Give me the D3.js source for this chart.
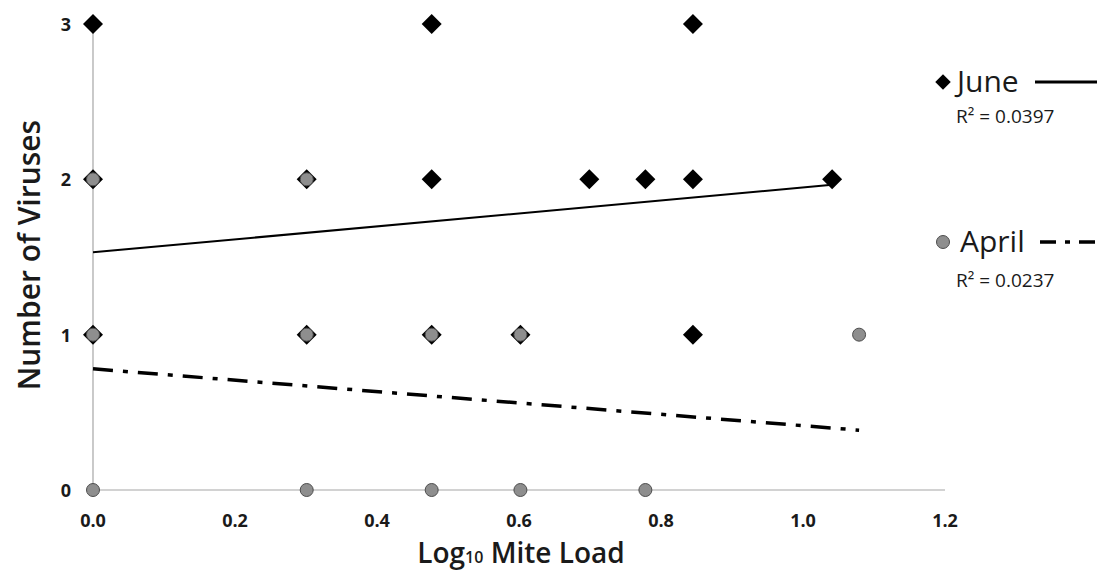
<!DOCTYPE html>
<html>
<head>
<meta charset="utf-8">
<script src="https://cdn.jsdelivr.net/npm/d3@7"></script>
<style>
body { margin: 0; background: #fff; }
text { font-family: "Open Sans", "Noto Sans", sans-serif; }
</style>
</head>
<body>
<div id="chart"></div>
<script>
// june points (log10 mite load, number of viruses)
var juneX = [0, 0.477, 0.845, 0, 0.301, 0.477, 0.699, 0.778, 0.845, 1.041, 0, 0.301, 0.477, 0.602, 0.845];
var juneY = [3, 3, 3, 2, 2, 2, 2, 2, 2, 2, 1, 1, 1, 1, 1];
// april points
var aprilX = [0, 0.301, 0, 0.301, 0.477, 0.602, 1.079, 0, 0.301, 0.477, 0.602, 0.778];
var aprilY = [2, 2, 1, 1, 1, 1, 1, 0, 0, 0, 0, 0];
// trend lines [x0, y0, x1, y1]
var juneTrend = [0, 1.53, 1.041, 1.965];
var aprilTrend = [0, 0.78, 1.079, 0.385];
var xTicks = [0, 0.2, 0.4, 0.6, 0.8, 1.0, 1.2];
var yTicks = [0, 1, 2, 3];

var W = 1106, H = 571;
var svg = d3.select("#chart").append("svg").attr("width", W).attr("height", H);

var x = d3.scaleLinear().domain([0, 1.2]).range([93, 945]);
var y = d3.scaleLinear().domain([0, 3]).range([490, 24]);

// axes lines
svg.append("line").attr("x1", x(0)).attr("x2", x(0)).attr("y1", y(0)).attr("y2", y(3))
  .attr("stroke", "#a6a6a6").attr("stroke-width", 1.2);
svg.append("line").attr("x1", x(0)).attr("x2", x(1.2)).attr("y1", y(0)).attr("y2", y(0))
  .attr("stroke", "#a6a6a6").attr("stroke-width", 1.2);

svg.selectAll(".xt").data(xTicks).enter().append("text")
  .attr("x", function(d){ return x(d); }).attr("y", 527)
  .attr("text-anchor", "middle").attr("font-size", 18).attr("font-weight", "bold")
  .attr("fill", "#1a1a1a")
  .text(function(d){ return d.toFixed(1); });

svg.selectAll(".yt").data(yTicks).enter().append("text")
  .attr("x", 71).attr("y", function(d){ return y(d) + 7; })
  .attr("text-anchor", "end").attr("font-size", 18).attr("font-weight", "bold")
  .attr("fill", "#1a1a1a")
  .text(function(d){ return d; });

// titles
var xt = svg.append("text").attr("x", 521).attr("y", 563).attr("text-anchor", "middle")
  .attr("font-size", 28).attr("font-weight", 600).attr("fill", "#1a1a1a");
xt.append("tspan").text("Log");
xt.append("tspan").attr("font-size", 16).text("10");
xt.append("tspan").text(" Mite Load");

svg.append("text").attr("transform", "translate(40,255) rotate(-90)")
  .attr("text-anchor", "middle").attr("font-size", 30).attr("font-weight", 600)
  .attr("fill", "#1a1a1a").text("Number of Viruses");

// trend lines
svg.append("line")
  .attr("x1", x(juneTrend[0])).attr("y1", y(juneTrend[1]))
  .attr("x2", x(juneTrend[2])).attr("y2", y(juneTrend[3]))
  .attr("stroke", "#000").attr("stroke-width", 2);
svg.append("line")
  .attr("x1", x(aprilTrend[0])).attr("y1", y(aprilTrend[1]))
  .attr("x2", x(aprilTrend[2])).attr("y2", y(aprilTrend[3]))
  .attr("stroke", "#000").attr("stroke-width", 3.5).attr("stroke-dasharray", "20,10,5,10");

var diamond = d3.symbol().type(d3.symbolSquare).size(200);
var june = juneX.map(function(d, i){ return [d, juneY[i]]; });
var april = aprilX.map(function(d, i){ return [d, aprilY[i]]; });

svg.selectAll(".june").data(june).enter().append("path")
  .attr("d", diamond)
  .attr("transform", function(d){ return "translate(" + x(d[0]) + "," + y(d[1]) + ") rotate(45)"; })
  .attr("fill", "#000");

svg.selectAll(".april").data(april).enter().append("circle")
  .attr("cx", function(d){ return x(d[0]); }).attr("cy", function(d){ return y(d[1]); })
  .attr("r", 6.5).attr("fill", "#8e8e8e").attr("stroke", "#4d4d4d").attr("stroke-width", 1);

// legend
svg.append("path").attr("d", d3.symbol().type(d3.symbolSquare).size(120))
  .attr("transform", "translate(943,82) rotate(45)").attr("fill", "#000");
svg.append("text").attr("x", 957).attr("y", 92).attr("font-size", 30).attr("fill", "#1a1a1a").text("June");
svg.append("line").attr("x1", 1035).attr("x2", 1097).attr("y1", 82).attr("y2", 82)
  .attr("stroke", "#000").attr("stroke-width", 3);
svg.append("text").attr("x", 956).attr("y", 123).attr("font-size", 19).attr("fill", "#1a1a1a").text("R² = 0.0397");

svg.append("circle").attr("cx", 943).attr("cy", 242).attr("r", 6.5)
  .attr("fill", "#8e8e8e").attr("stroke", "#4d4d4d");
svg.append("text").attr("x", 960).attr("y", 252).attr("font-size", 30).attr("fill", "#1a1a1a").text("April");
svg.append("line").attr("x1", 1040).attr("x2", 1102).attr("y1", 242).attr("y2", 242)
  .attr("stroke", "#000").attr("stroke-width", 3.5).attr("stroke-dasharray", "16,9,5,9");
svg.append("text").attr("x", 956).attr("y", 287).attr("font-size", 19).attr("fill", "#1a1a1a").text("R² = 0.0237");
</script>
</body>
</html>
